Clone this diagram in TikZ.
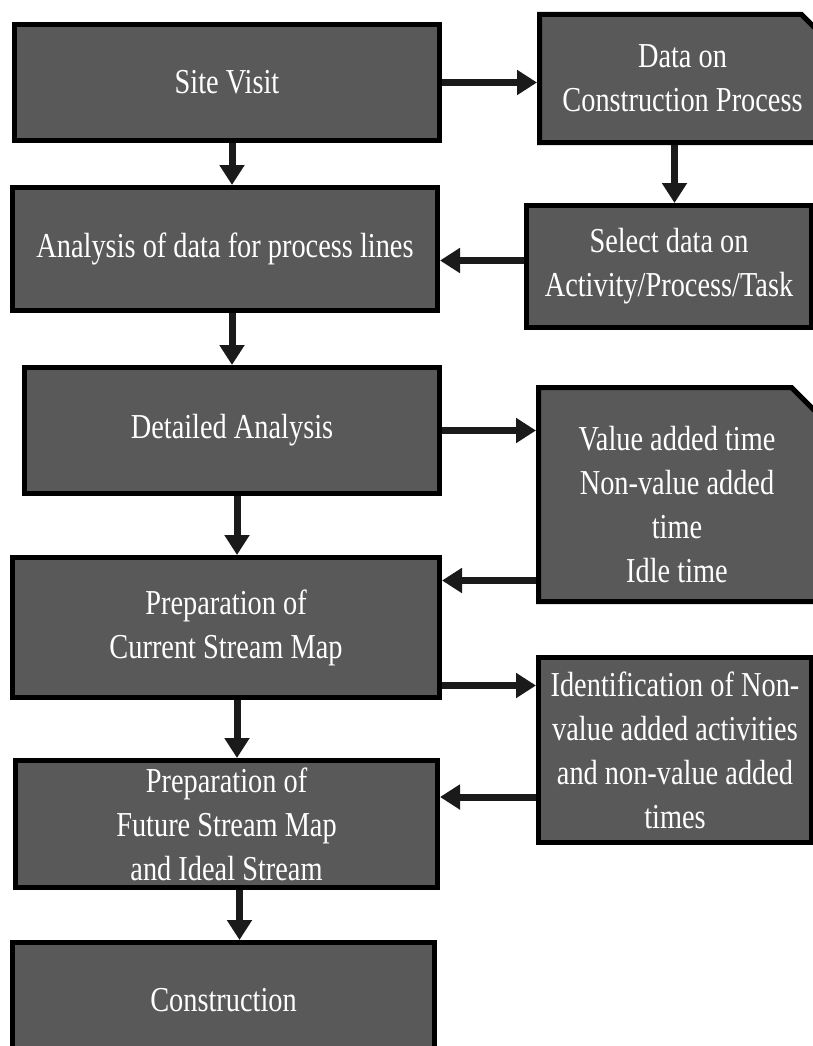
\documentclass[tikz,border=0pt]{standalone}
\usepackage{fontspec}
\setmainfont{Liberation Serif}[FakeStretch=0.81]
\usepackage{xcolor}
\usetikzlibrary{arrows.meta,calc,shapes.misc}
\definecolor{boxgray}{HTML}{595959}
\definecolor{arrowblack}{HTML}{1A1A1A}
\newcommand{\boxfont}{\fontsize{35pt}{44pt}\selectfont}
\tikzset{
  flowbox/.style={rectangle, draw=black, line width=5pt, fill=boxgray,
    text=white, font=\boxfont, align=center, inner sep=0pt},
  notebox/.style={flowbox, chamfered rectangle, chamfered rectangle corners=north east,
    chamfered rectangle xsep=10pt, chamfered rectangle ysep=14pt},
  flowarr/.style={-{Triangle[length=20pt,width=24pt]}, line width=7pt, draw=arrowblack, color=arrowblack}
}
\begin{document}
\begin{tikzpicture}[x=1pt,y=-1pt]
  \useasboundingbox (0,0) rectangle (812,1046);
  % left column
  \node[flowbox, minimum width=425pt, minimum height=116pt] (site) at (227,82.5) {Site Visit};
  \node[flowbox, minimum width=425pt, minimum height=123pt] (ana) at (225,249) {Analysis of data for process lines};
  \node[flowbox, minimum width=415pt, minimum height=126pt] (det) at (232,430.5) {Detailed Analysis};
  \node[flowbox, minimum width=427pt, minimum height=140pt] (cur) at (226,627.5) {Preparation of\\Current Stream Map};
  \node[flowbox, minimum width=422pt, minimum height=127pt] (fut) at (226.5,824) {Preparation of\\Future Stream Map\\and Ideal Stream};
  \node[flowbox, minimum width=422pt, minimum height=115pt] (con) at (223.5,1000) {Construction};
  % right column
  \node[notebox, minimum width=286pt, minimum height=128pt] (data) at (682.5,78.5) {Data on\\Construction Process};
  \node[flowbox, minimum width=285pt, minimum height=122pt] (sel) at (669,266.5) {Select data on\\Activity/Process/Task};
  \node[notebox, minimum width=277pt, minimum height=214pt, text height=177pt] (val) at (677,494.5) {Value added time\\Non-value added\\time\\Idle time};
  \node[flowbox, minimum width=273pt, minimum height=185pt] (idn) at (675,750) {Identification of Non-\\value added activities\\and non-value added\\times};
  % connectors
  \draw[flowarr] (site.east) -- (site.east -| data.west);
  \draw[flowarr] ([xshift=5pt]site.south) -- ([xshift=5pt]site.south |- ana.north);
  \draw[flowarr] ([xshift=-8pt]data.south) -- ([xshift=-8pt]data.south |- sel.north);
  \draw[flowarr] ([yshift=6pt]sel.west) -- ([yshift=6pt]sel.west -| ana.east);
  \draw[flowarr] ([xshift=7pt]ana.south) -- ([xshift=7pt]ana.south |- det.north);
  \draw[flowarr] (det.east) -- (det.east -| val.west);
  \draw[flowarr] ([xshift=5pt]det.south) -- ([xshift=5pt]det.south |- cur.north);
  \draw[flowarr] ([yshift=-86pt]val.west) -- ([yshift=-86pt]val.west -| cur.east);
  \draw[flowarr] ([yshift=-58pt]cur.east) -- ([yshift=-58pt]cur.east -| idn.west);
  \draw[flowarr] ([xshift=11pt]cur.south) -- ([xshift=11pt]cur.south |- fut.north);
  \draw[flowarr] ([yshift=-47pt]idn.west) -- ([yshift=-47pt]idn.west -| fut.east);
  \draw[flowarr] ([xshift=13pt]fut.south) -- ([xshift=13pt]fut.south |- con.north);
\end{tikzpicture}
\end{document}
